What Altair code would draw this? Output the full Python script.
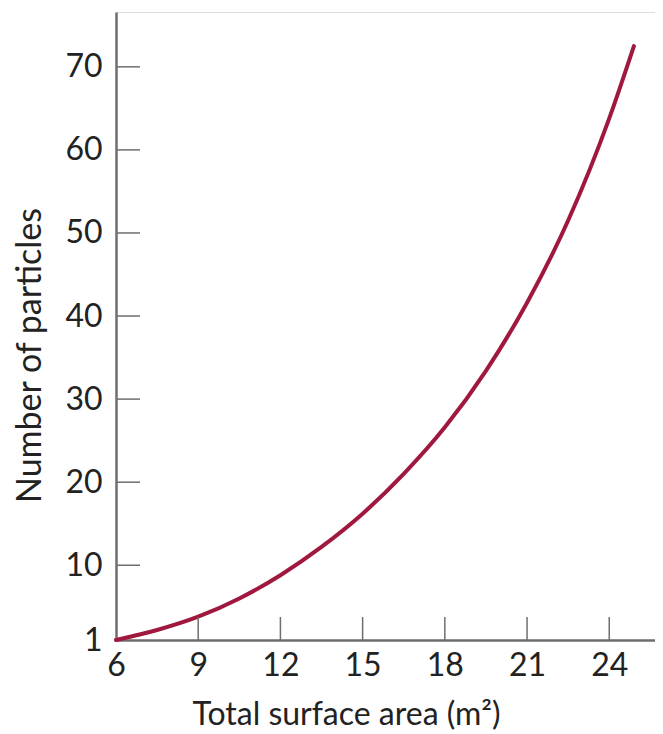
import altair as alt
import pandas as pd

# Curve
surface_area = [6, 7.5, 9, 10.5, 12, 13.5, 15, 16.5, 18, 19.5, 21, 22.5, 24, 24.9]
particles = [1, 2.2, 3.8, 6.0, 8.8, 12.2, 16.2, 21.0, 26.6, 33.4, 41.6, 51.5, 63.8, 72.5]

x_ticks = [6, 9, 12, 15, 18, 21, 24]
y_ticks = [1, 10, 20, 30, 40, 50, 60, 70]
x_inner_ticks = [9, 12, 15, 18, 21, 24]
y_inner_ticks = [10, 20, 30, 40, 50, 60, 70]

W, H = 539, 628
FONT = "Lato"
AXIS_COLOR = "#6e6e6e"
TEXT_COLOR = "#222222"
CURVE_COLOR = "#a0183e"

curve_df = pd.DataFrame({"area": surface_area, "n": particles})
xt_df = pd.DataFrame({"v": x_inner_ticks})
yt_df = pd.DataFrame({"v": y_inner_ticks})

xscale = alt.Scale(domain=[6, 25.67], nice=False, zero=False)
yscale = alt.Scale(domain=[1, 76.6], nice=False, zero=False)

xaxis = alt.Axis(
    values=x_ticks, ticks=False, grid=False, labelFlush=False,
    domainColor=AXIS_COLOR, domainWidth=2.5,
    labelFont=FONT, labelFontSize=32, labelColor=TEXT_COLOR, labelPadding=10,
    title="Total surface area (m²)", titleFont=FONT, titleFontSize=32,
    titleFontWeight="normal", titleColor=TEXT_COLOR,
    titleX=230, titleY=74, titleBaseline="middle", titleAlign="center",
)
yaxis = alt.Axis(
    values=y_ticks, ticks=False, grid=False, labelFlush=False,
    domainColor=AXIS_COLOR, domainWidth=2.5,
    labelFont=FONT, labelFontSize=32, labelColor=TEXT_COLOR, labelPadding=14,
    title="Number of particles", titleFont=FONT, titleFontSize=34,
    titleFontWeight="normal", titleColor=TEXT_COLOR,
    titleX=-86, titleY=343, titleBaseline="middle", titleAlign="center", titleAngle=-90,
)

curve = alt.Chart(curve_df).mark_line(
    color=CURVE_COLOR, strokeWidth=4, interpolate="monotone", strokeCap="round"
).encode(
    x=alt.X("area:Q", scale=xscale, axis=xaxis),
    y=alt.Y("n:Q", scale=yscale, axis=yaxis),
)

xticks = alt.Chart(xt_df).mark_rule(color=AXIS_COLOR, strokeWidth=1.5).encode(
    x=alt.X("v:Q", scale=xscale),
    y=alt.value(H),
    y2=alt.value(H - 23),
)
yticks = alt.Chart(yt_df).mark_rule(color=AXIS_COLOR, strokeWidth=1.5).encode(
    y=alt.Y("v:Q", scale=yscale),
    x=alt.value(0),
    x2=alt.value(24),
)

chart = alt.layer(curve, xticks, yticks).properties(
    width=W, height=H,
    autosize=alt.AutoSizeParams(type="none"),
    padding={"left": 108, "top": 4, "right": 0, "bottom": 90},
).configure_view(stroke=None).configure(background="white")

chart.save("out.html", embed_options={"renderer": "svg", "actions": False})
